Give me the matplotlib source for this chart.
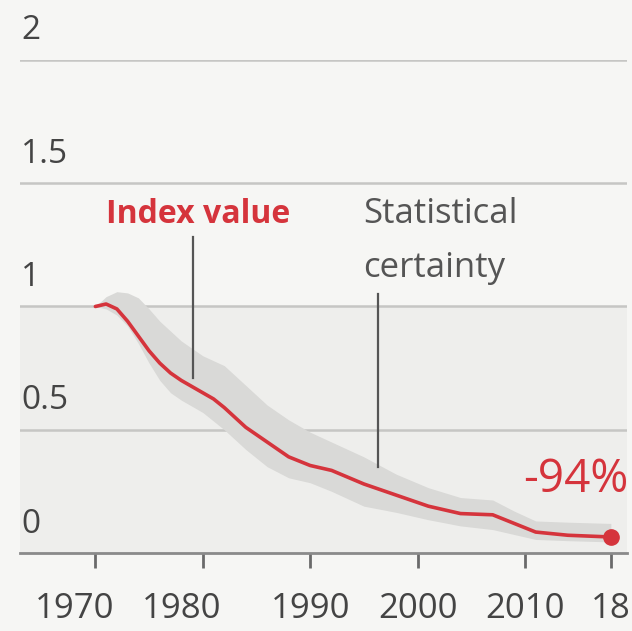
import matplotlib.pyplot as plt
import matplotlib.transforms as mtransforms

# Datos
years = [1970, 1971, 1972, 1973, 1974, 1975, 1976, 1977, 1978, 1979, 1980, 1981, 1982,
         1984, 1986, 1988, 1990, 1992, 1995, 1998, 2001, 2004, 2007, 2009, 2011,
         2014, 2018]
index_value = [1.0, 1.01, 0.99, 0.94, 0.88, 0.82, 0.77, 0.73, 0.70, 0.675, 0.65, 0.625, 0.59,
               0.51, 0.45, 0.39, 0.355, 0.335, 0.28, 0.235, 0.19, 0.16, 0.155, 0.12, 0.085,
               0.072, 0.065]
upper = [1.0, 1.04, 1.06, 1.055, 1.035, 0.99, 0.94, 0.90, 0.86, 0.83, 0.80, 0.78, 0.76,
         0.68, 0.60, 0.54, 0.49, 0.45, 0.39, 0.32, 0.265, 0.225, 0.215, 0.17, 0.13,
         0.125, 0.12]
lower = [1.0, 0.99, 0.965, 0.92, 0.85, 0.77, 0.70, 0.65, 0.62, 0.595, 0.57, 0.535, 0.50,
         0.42, 0.35, 0.305, 0.285, 0.25, 0.19, 0.165, 0.135, 0.11, 0.095, 0.075, 0.055,
         0.05, 0.045]

xticks = [1970, 1980, 1990, 2000, 2010, 2018]
xtick_labels = ['1970', '1980', '1990', '2000', '2010', '18']
yticks = [0, 0.5, 1, 1.5, 2]
ytick_labels = ['0', '0.5', '1', '1.5', '2']

rojo = '#d5343c'
gris = '#555555'
bg = '#f6f6f4'

plt.rcParams['font.family'] = ['Open Sans', 'DejaVu Sans']

fig = plt.figure(figsize=(6.32, 6.31), dpi=100, facecolor=bg)
ax = fig.add_axes([0.032, 0.1236, 0.96, 0.905 - 0.1236])
ax.set_facecolor(bg)
ax.set_xlim(1963, 2019.5)
ax.set_ylim(0, 2)

# zona sombreada debajo de 1
ax.axhspan(0, 1, color='#eeeeec', zorder=0, lw=0)

# lineas de la cuadricula
for t in yticks[1:]:
    ax.axhline(t, color='#c6c6c4', lw=1.8, zorder=1)

trans = ax.get_yaxis_transform() + mtransforms.ScaledTranslation(0, 9 / 72, fig.dpi_scale_trans)
for t, lab in zip(yticks, ytick_labels):
    ax.text(0.002, t, lab, transform=trans, ha='left', va='bottom',
            fontsize=24, color='#444444')

# banda de certeza
ax.fill_between(years, lower, upper, color='#d9d9d7', lw=0, zorder=2)
ax.plot(years, index_value, color=rojo, lw=2.6, zorder=4, solid_capstyle='round')
ax.plot(years[-1], index_value[-1], 'o', color=rojo, ms=11, zorder=5)

# anotaciones
ax.plot([1979.1, 1979.1], [0.71, 1.28], color=gris, lw=1.6, zorder=3)
ax.plot([1996.3, 1996.3], [0.35, 1.05], color=gris, lw=1.6, zorder=3)
ax.text(1971.0, 1.375, 'Index value', color=rojo, fontsize=23, fontweight='bold',
        ha='left', va='center')
ax.text(1994.9, 1.375, 'Statistical', color=gris, fontsize=25, ha='left', va='center')
ax.text(1994.9, 1.155, 'certainty', color=gris, fontsize=25, ha='left', va='center')
ax.text(2014.7, 0.295, '-94%', color=rojo, fontsize=33, ha='center', va='center')

for s in ['top', 'right', 'left']:
    ax.spines[s].set_visible(False)
ax.spines['bottom'].set_color('#8a8a8a')
ax.spines['bottom'].set_linewidth(2)
ax.set_yticks([])
ax.set_xticks(xticks)
ax.set_xticklabels(xtick_labels)
ax.tick_params(axis='x', length=11, width=2, color='#6a6a6a', labelsize=25,
               labelcolor='#444444', pad=17)

# las dos primeras etiquetas estan corridas a la izquierda
shift = mtransforms.ScaledTranslation(-21 / 100, 0, fig.dpi_scale_trans)
for lab in ax.get_xticklabels()[:2]:
    lab.set_transform(lab.get_transform() + shift)

plt.savefig('out.png', dpi=100, facecolor=bg)
